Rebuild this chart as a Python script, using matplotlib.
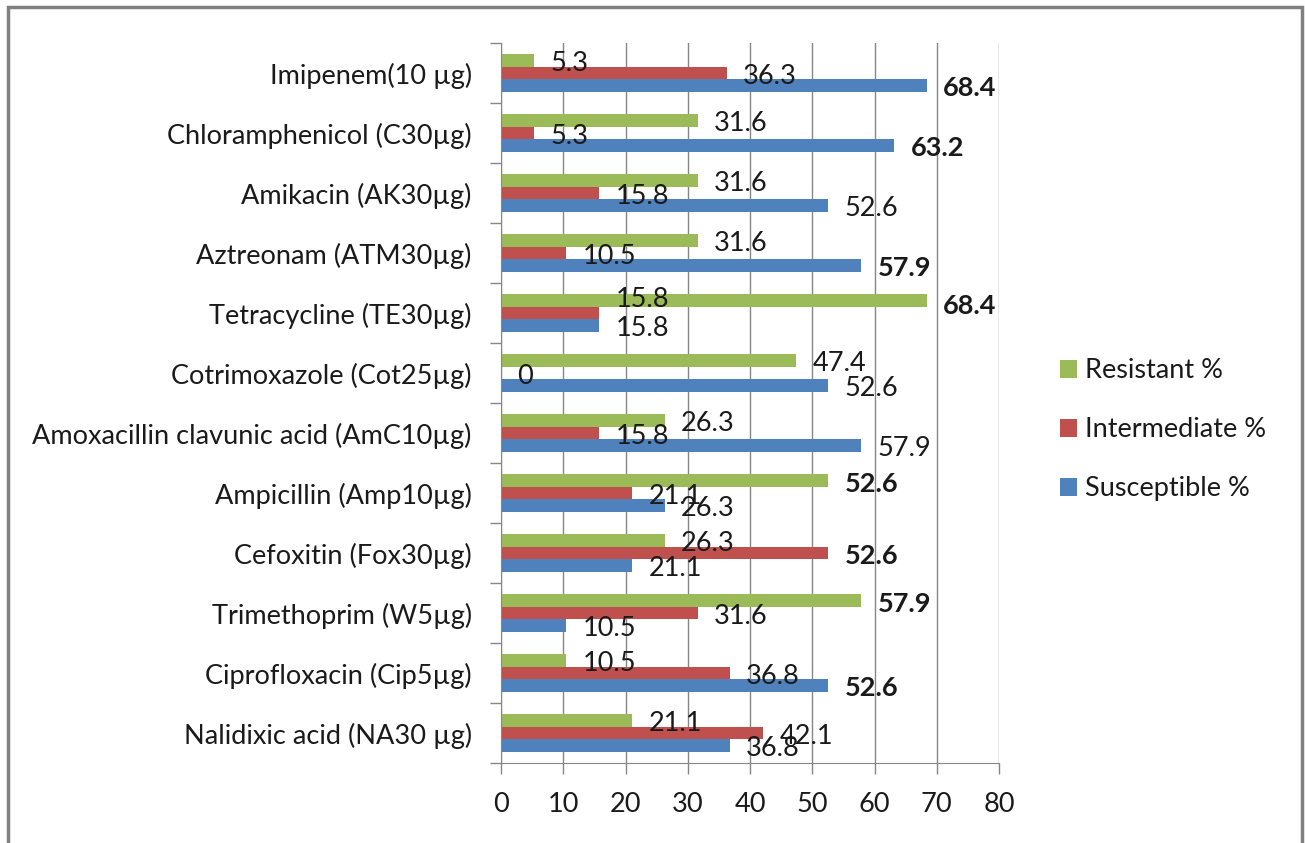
import matplotlib
matplotlib.use("Agg")
import matplotlib.pyplot as plt
import numpy as np
from matplotlib.patches import Rectangle

plt.rcParams['font.family'] = ['Lato', 'DejaVu Sans']

categories = [
    "Imipenem(10 µg)",
    "Chloramphenicol (C30µg)",
    "Amikacin (AK30µg)",
    "Aztreonam (ATM30µg)",
    "Tetracycline (TE30µg)",
    "Cotrimoxazole (Cot25µg)",
    "Amoxacillin clavunic acid (AmC10µg)",
    "Ampicillin (Amp10µg)",
    "Cefoxitin (Fox30µg)",
    "Trimethoprim (W5µg)",
    "Ciprofloxacin (Cip5µg)",
    "Nalidixic acid (NA30 µg)",
]
resistant = [5.3, 31.6, 31.6, 31.6, 68.4, 47.4, 26.3, 52.6, 26.3, 57.9, 10.5, 21.1]
intermediate = [36.3, 5.3, 15.8, 10.5, 15.8, 0, 15.8, 21.1, 52.6, 31.6, 36.8, 42.1]
susceptible = [68.4, 63.2, 52.6, 57.9, 15.8, 52.6, 57.9, 26.3, 21.1, 10.5, 52.6, 36.8]

# which value labels appear in bold (per series, per category)
bold_res = [False, False, False, False, True, False, False, True, False, True, False, False]
bold_int = [False, False, False, False, False, False, False, False, True, False, False, False]
bold_sus = [True, True, False, True, False, False, False, False, False, False, True, False]

series_names = ["Resistant %", "Intermediate %", "Susceptible %"]
colors = ["#9BBB59", "#C0504D", "#4F81BD"]
xticks = [0, 10, 20, 30, 40, 50, 60, 70, 80]

W, H = 1305, 843
FS = 19.5
TXT = "#1a1a1a"
fig = plt.figure(figsize=(W / 100, H / 100), dpi=100)
ax = fig.add_axes([501 / W, 1 - 763 / H, (999 - 501) / W, (763 - 43) / H])

n = len(categories)
pos = np.arange(n)[::-1]  # first category at the top
bh = 0.208
series = [resistant, intermediate, susceptible]
bolds = [bold_res, bold_int, bold_sus]
offsets = [-bh, 0, bh]  # resistant on top, susceptible at bottom

# label vertical nudge (category units, positive = down); a few labels deviate
label_nudge = {(4, 1): -0.23, (4, 0): 0.09}

for si, (vals, col, off, bl) in enumerate(zip(series, colors, offsets, bolds)):
    ys = pos - off
    ax.barh(ys, vals, height=bh, color=col, label=series_names[si], zorder=2)
    for ci, (v, y, b) in enumerate(zip(vals, ys, bl)):
        nd = label_nudge.get((ci, si), 0.05)
        txt = f"{v:g}" if v != 0 else "0"
        ax.text(v + 2.6, y - nd, txt, ha="left", va="center",
                fontsize=FS, fontweight="bold" if b else "normal",
                color=TXT, zorder=3)

ax.set_xlim(0, 80)
ax.set_ylim(-0.5, n - 0.5)
ax.set_xticks(xticks)
ax.set_xticklabels([str(t) for t in xticks], fontsize=FS, color=TXT)
ax.set_yticks(pos)
ax.set_yticklabels(categories, fontsize=FS, color=TXT)
ax.tick_params(axis="y", length=0, pad=21)
ax.set_yticks(np.arange(-0.5, n, 1.0), minor=True)
ax.tick_params(axis="y", which="minor", length=8, color="#868686", width=1)
ax.tick_params(axis="x", length=8, color="#868686", width=1, direction="out", pad=13)

ax.grid(axis="x", color="#868686", linewidth=1, zorder=0)
ax.set_axisbelow(True)
for s in ["top", "right"]:
    ax.spines[s].set_visible(False)
ax.spines["left"].set_color("#868686")
ax.spines["bottom"].set_color("#868686")

handles, labels = ax.get_legend_handles_labels()
leg = fig.legend(handles, labels, loc="upper left",
                 bbox_to_anchor=(1036 / W, 1 - 334 / H),
                 frameon=False, fontsize=FS, handlelength=0.62, handleheight=0.65,
                 handletextpad=0.3, labelspacing=1.25)
for t in leg.get_texts():
    t.set_color(TXT)

# outer frame
fig.patches.append(Rectangle((8 / W, -0.1), (1302 - 8) / W, 1.1 - 7 / H,
                             transform=fig.transFigure, fill=False,
                             edgecolor="#808080", linewidth=2.5))

fig.savefig("out.png", dpi=100)
